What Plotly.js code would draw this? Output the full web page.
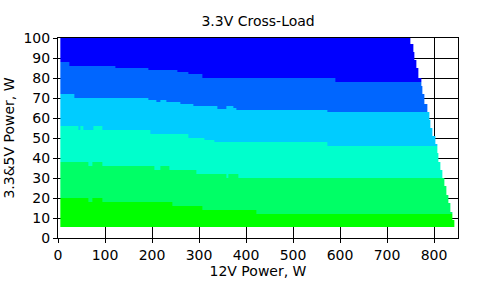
<!DOCTYPE html>
<html>
<head>
<meta charset="utf-8">
<script src="https://cdn.plot.ly/plotly-3.0.1.min.js"></script>
<style>html,body{margin:0;padding:0;background:#fff;}#chart{width:487px;height:286px;}</style>
</head>
<body>
<div id="chart"></div>
<script>
// Band colours, bottom to top (3.3V deviation levels)
var bandColors = ['#00ff00', '#00ff66', '#00ffcc', '#00ccff', '#0066ff', '#0000ff'];

// Boundaries between bands: step functions (x start of each step, 3.3&5V W level)
var b1X = [5, 65, 74, 95, 244, 308, 423];
var b1Y = [20.2, 18.2, 20.2, 18.2, 16.2, 14.2, 12.2];

var b2X = [5, 65, 74, 95, 206, 218, 236, 295, 359, 363, 384];
var b2Y = [38.2, 36.2, 38.2, 36.2, 34.2, 36.2, 34.2, 32.2, 30.2, 32.2, 30.2];

var b3X = [5, 44, 47, 53, 75, 95, 197, 278, 312, 333, 572];
var b3Y = [56.2, 54.2, 56.2, 54.2, 56.2, 54.2, 52.2, 50.2, 49.2, 48.2, 46.2];

var b4X = [5, 35.5, 193, 209, 218.5, 231, 261, 287, 338, 359, 372, 380, 572];
var b4Y = [72.2, 70.2, 69.2, 68.2, 69.2, 68.2, 67.2, 66.2, 64.7, 66.2, 65.2, 64.2, 62.8];

var b5X = [5, 25, 121, 193, 253, 278, 308, 589];
var b5Y = [88.2, 86.2, 85.2, 84.2, 83.2, 82.2, 80.2, 78.2];

// Load rows: bottom of each row (3.3&5V W) and the max 12V load reached (W)
var rowY = [5.3, 9, 13, 17.6, 21.6, 26, 30, 34, 38, 42.6, 47, 51, 55, 59, 63, 67, 72, 76, 80, 85, 89, 93, 97];
var rowX = [844, 840, 835, 831, 827, 823, 818, 814, 810, 806, 802, 797, 793, 789, 785, 780, 776, 772, 767, 763, 759, 755, 750];
var yTop = 100;
var xStart = 5;

var xTicks = [0, 100, 200, 300, 400, 500, 600, 700, 800];
var yTicks = [0, 10, 20, 30, 40, 50, 60, 70, 80, 90, 100];

// ---- build heatmap table from the arrays above ----
var bounds = [[b1X, b1Y], [b2X, b2Y], [b3X, b3Y], [b4X, b4Y], [b5X, b5Y]];
function stepAt(xs, ys, x) {
  var v = ys[0];
  for (var i = 0; i < xs.length; i++) { if (x >= xs[i]) v = ys[i]; }
  return v;
}
function edgeAt(y) {
  var v = rowX[0];
  for (var i = 0; i < rowY.length; i++) { if (y >= rowY[i]) v = rowX[i]; }
  return v;
}
function uniq(a) {
  a.sort(function (p, q) { return p - q; });
  var o = [];
  a.forEach(function (v) { if (!o.length || Math.abs(o[o.length - 1] - v) > 1e-9) o.push(v); });
  return o;
}
var xe = [xStart].concat(rowX);
var ye = [rowY[0], yTop].concat(rowY);
bounds.forEach(function (b) { xe = xe.concat(b[0]); ye = ye.concat(b[1]); });
xe = uniq(xe.filter(function (v) { return v >= xStart; }));
ye = uniq(ye.filter(function (v) { return v >= rowY[0] && v <= yTop; }));
var z = [];
for (var j = 0; j < ye.length - 1; j++) {
  var cy = (ye[j] + ye[j + 1]) / 2;
  var row = [];
  var ex = edgeAt(cy);
  for (var i = 0; i < xe.length - 1; i++) {
    var cx = (xe[i] + xe[i + 1]) / 2;
    if (cx > ex) { row.push(null); continue; }
    var k = 0;
    bounds.forEach(function (b) { if (cy > stepAt(b[0], b[1], cx)) k++; });
    row.push(k);
  }
  z.push(row);
}
var cs = bandColors.map(function (c, i) { return [i / (bandColors.length - 1), c]; });

var trace = {
  type: 'heatmap', x: xe, y: ye, z: z,
  zmin: 0, zmax: bandColors.length - 1, colorscale: cs,
  showscale: false, hoverinfo: 'skip', zsmooth: false
};

var font = {family: 'DejaVu Sans, Arial, sans-serif', size: 14, color: '#000'};
var axisCommon = {
  showgrid: true, gridcolor: '#000', gridwidth: 1,
  showline: true, linecolor: '#000', linewidth: 1, mirror: true,
  ticks: 'outside', ticklen: 4, tickcolor: '#000', tickwidth: 1,
  zeroline: false, tickfont: font
};
var layout = {
  width: 487, height: 286,
  margin: {l: 58, r: 29, t: 38, b: 48},
  paper_bgcolor: '#fff', plot_bgcolor: '#fff',
  font: font,
  title: {text: '3.3V Cross-Load', font: font, x: 0.53, xanchor: 'center', y: 0.925, yanchor: 'middle', yref: 'container'},
  xaxis: Object.assign({}, axisCommon, {
    range: [0, 851], tickvals: xTicks, ticktext: xTicks.map(String),
    title: {text: '12V Power, W', font: font, standoff: 3}
  }),
  yaxis: Object.assign({}, axisCommon, {
    range: [0, 100], tickvals: yTicks, ticktext: yTicks.map(String),
    title: {text: '3.3&5V Power, W', font: font, standoff: 5}
  }),
  showlegend: false
};
Plotly.newPlot('chart', [trace], layout, {staticPlot: true, displayModeBar: false});
</script>
</body>
</html>
